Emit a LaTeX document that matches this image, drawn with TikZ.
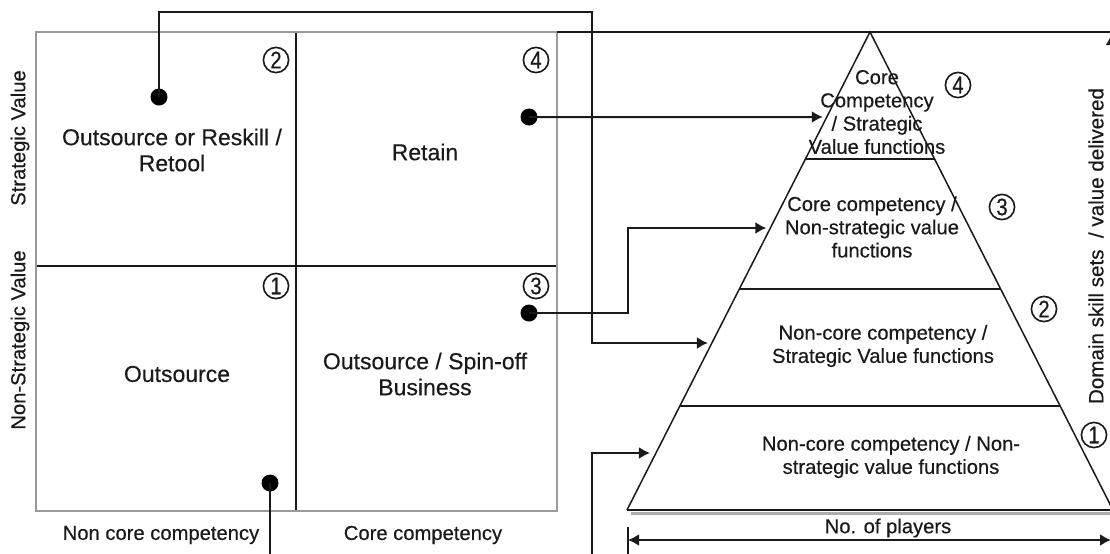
\documentclass[tikz,border=0pt]{standalone}
\usepackage{fontspec}
\setmainfont{Liberation Sans}[FakeBold=0.35]
\usetikzlibrary{arrows.meta,calc}
\definecolor{ink}{HTML}{1A1A1A}
\definecolor{frame}{HTML}{9A9A9A}
\newcommand\narrowdigit[1]{\scalebox{0.85}[1]{#1}}
\tikzset{
  quadtext/.style={text=ink,align=center,font=\fontsize{11.5}{13}\selectfont},
  pyrtext/.style={text=ink,align=center,font=\fontsize{10.1}{11.6}\selectfont},
  axistext/.style={text=ink,font=\fontsize{10.1}{12}\selectfont},
  num/.style={circle,draw=ink,line width=0.8pt,text=ink,inner sep=0pt,minimum size=12.6pt,
    font=\fontsize{12}{12}\selectfont},
  dot/.style={circle,fill=black,inner sep=0pt,minimum size=8.5pt},
  link/.style={draw=ink,line width=1pt},
  tip/.style={-{Latex[length=5.5pt,width=6pt]}},
  divider/.style={draw=ink,line width=1pt},
  pyredge/.style={draw=ink,line width=0.75pt}
}
\begin{document}
\begin{tikzpicture}[x=0.5pt,y=-0.5pt]
\useasboundingbox (0,0) rectangle (1110,553);
\clip (0,0) rectangle (1110,553);
\fill[white] (0,0) rectangle (1110,553);

% ---- competency / value matrix ----
\draw[divider] (296,32) -- (296,511);
\draw[divider] (36,266) -- (557,266);
\draw[draw=frame,line width=1pt] (36,32) rectangle (557,511);
\draw[link] (557,32) -- (1112,32);

\node[quadtext] (q2) at (172,150) {Outsource or Reskill /\\Retool};
\node[quadtext] (q4) at (425,152) {Retain};
\node[quadtext] (q1) at (177,374) {Outsource};
\node[quadtext] (q3) at (425,374) {Outsource / Spin-off\\Business};

\node[num] (n2) at (276,60) {\narrowdigit{2}};
\node[num] (n4) at (536,60) {\narrowdigit{4}};
\node[num] (n1) at (276,286) {\narrowdigit{1}};
\node[num] (n3) at (536,286) {\narrowdigit{3}};

\node[axistext,rotate=90] (sv) at (20,138) {Strategic Value};
\node[axistext,rotate=90] (nsv) at (20,340) {Non-Strategic Value};
\node[axistext] (ncc) at (161,535) {Non core competency};
\node[axistext] (cc) at (423,535) {Core competency};

\node[dot] (d2) at (159,97) {};
\node[dot] (d4) at (529,117) {};
\node[dot] (d3) at (529,313) {};
\node[dot] (d1) at (270,483) {};

% ---- pyramid ----
\coordinate (apex) at (870,32);
\coordinate (bl) at (627,510);
\coordinate (br) at (1113,510);
\draw[pyredge] (bl) -- (apex) -- (br);
\draw[draw=frame!80,line width=1.5pt] ($(bl)+(4,3)$) -- ($(br)+(0,3)$);
\draw[divider] (bl) -- (br);
\foreach \yy in {159,289,406}{
  \draw[pyredge] ($(apex)!{(\yy-32)/478}!(bl)$) -- ($(apex)!{(\yy-32)/478}!(br)$);
}

% arrow targets on the left face
\coordinate (p4) at ($(apex)!{(117-32)/478}!(bl)+(-4,0)$);
\coordinate (p3) at ($(apex)!{(228-32)/478}!(bl)+(-4,0)$);
\coordinate (p2) at ($(apex)!{(343-32)/478}!(bl)+(-4,0)$);
\coordinate (p1) at ($(apex)!{(453-32)/478}!(bl)+(-6,0)$);

\node[pyrtext] (t4) at (877,112) {Core\\Competency\\/ Strategic\\Value functions};
\node[pyrtext] (t3) at (872,227) {Core competency /\\Non-strategic value\\functions};
\node[pyrtext] (t2) at (883,346) {Non-core competency /\\Strategic Value functions};
\node[pyrtext] (t1) at (891,457) {Non-core competency / Non-\\strategic value functions};

\node[num] (m4) at (958,85) {\narrowdigit{4}};
\node[num] (m3) at (1002,207) {\narrowdigit{3}};
\node[num] (m2) at (1044,309) {\narrowdigit{2}};
\node[num] (m1) at (1094,435) {\narrowdigit{1}};

\node[axistext] (np) at (888,528) {No. of players};
\node[axistext,rotate=90,font=\fontsize{10.3}{12}\selectfont] (ds) at (1096,246) {Domain skill sets~~/ value delivered};

% axes of the pyramid
\coordinate (hl) at (628,540);
\coordinate (hr) at (1111,540);
\draw[link,{Latex[length=5.5pt,width=6pt]}-{Latex[length=5.5pt,width=6pt]}] (hl) -- (hr);
\coordinate (barT) at (628,527);
\coordinate (barB) at (628,560);
\draw[link] (barT) -- (barB);
\coordinate (vb) at (1111.5,510);
\coordinate (vt) at (1111.5,34);
\draw[link,tip] (vb) -- (vt);

% ---- connectors ----
\coordinate (k2) at (592,12);
\coordinate (k3) at (628,313);
\coordinate (k1) at (592,590);
\draw[link,tip] (d4.center) -- (p4);
\draw[link,tip] (d2.center) |- (k2) |- (p2);
\draw[link,tip] (d3.center) -- (k3) |- (p3);
\draw[link,tip] (d1.center) |- (k1) |- (p1);
\end{tikzpicture}
\end{document}
